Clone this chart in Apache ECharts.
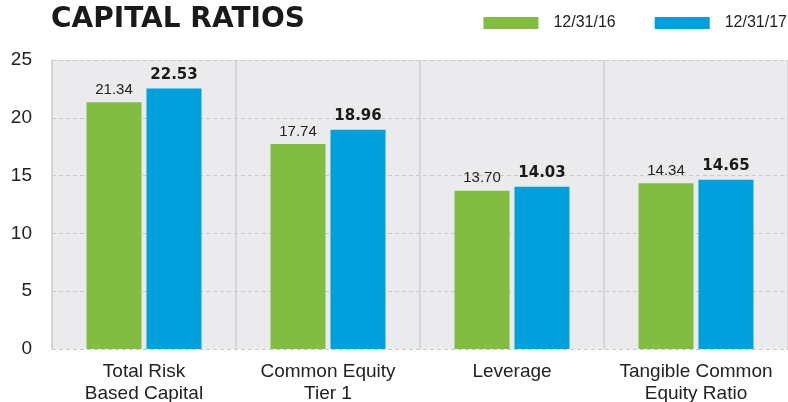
<!DOCTYPE html>
<html><head><meta charset="utf-8">
<script src="https://cdn.jsdelivr.net/npm/echarts@6/dist/echarts.min.js"></script>
<style>html,body{margin:0;padding:0;background:#fff}#c{width:788px;height:402px}</style>
</head><body><div id="c"></div>
<script>
var categories = ['Total Risk\nBased Capital', 'Common Equity\nTier 1', 'Leverage', 'Tangible Common\nEquity Ratio'];
var series2016 = [21.34, 17.74, 13.70, 14.34];
var series2017 = [22.53, 18.96, 14.03, 14.65];
var seriesNames = ['12/31/16', '12/31/17'];
var yTicks = [0, 5, 10, 15, 20, 25];

var chart = echarts.init(document.getElementById('c'));
chart.setOption({
  animation: false,
  backgroundColor: '#fff',
  title: {
    text: 'CAPITAL RATIOS', left: 46, top: 1,
    textStyle: {fontFamily: 'DejaVu Sans', fontWeight: 'bold', fontSize: 28, color: '#1a1a1a'}
  },
  legend: {
    right: -4, top: 10, itemWidth: 55, itemHeight: 12, itemGap: 39,
    textStyle: {fontFamily: 'Liberation Sans', fontSize: 16, color: '#222', padding: [0,0,0,10]},
    data: seriesNames, icon: 'rect'
  },
  grid: {left: 52, right: 0, top: 60, bottom: 53, show: true, backgroundColor: '#ebebed', borderWidth: 0,
         containLabel: false, outerBoundsMode: 'none'},
  xAxis: {
    type: 'category', data: categories,
    axisLine: {show: false}, axisTick: {show: false},
    splitLine: {show: true, interval: 0, lineStyle: {color: '#d0d0d2', width: 1.5}},
    axisLabel: {interval: 0, hideOverlap: false, fontFamily: 'Liberation Sans', fontSize: 19, color: '#222', lineHeight: 22, margin: 12}
  },
  yAxis: {
    type: 'value', min: yTicks[0], max: yTicks[yTicks.length-1], interval: 5,
    axisLine: {show: true, lineStyle: {color: '#d0d0d2', width: 1.5}},
    axisTick: {show: false},
    splitLine: {show: true, lineStyle: {color: '#c8c8ca', type: [4, 3], width: 1}},
    axisLabel: {fontFamily: 'Liberation Sans', fontSize: 19, color: '#222', margin: 20}
  },
  series: [
    {name: seriesNames[0], type: 'bar', data: series2016, barWidth: 55, barGap: '9%',
     itemStyle: {color: '#80bd41'},
     label: {show: true, position: 'top', distance: 5, formatter: function(p){return p.value.toFixed(2);},
       fontFamily: 'Liberation Sans', fontSize: 15, color: '#222'}},
    {name: seriesNames[1], type: 'bar', data: series2017, barWidth: 55,
     itemStyle: {color: '#00a0dc'},
     label: {show: true, position: 'top', distance: 6, formatter: function(p){return p.value.toFixed(2);},
       fontFamily: 'DejaVu Sans', fontSize: 15, fontWeight: 'bold', color: '#1a1a1a'}}
  ]
});
</script></body></html>
